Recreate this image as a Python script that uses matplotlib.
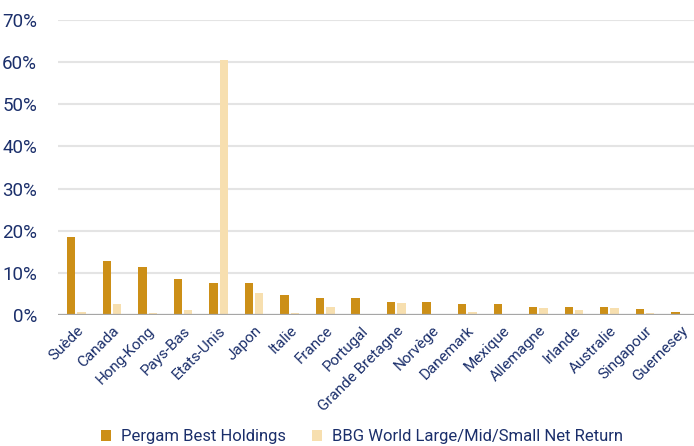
import numpy as np
import matplotlib
matplotlib.use("Agg")
import matplotlib.pyplot as plt
from matplotlib.ticker import FuncFormatter

pays = ["Suède", "Canada", "Hong-Kong", "Pays-Bas", "Etats-Unis", "Japon",
        "Italie", "France", "Portugal", "Grande Bretagne", "Norvège",
        "Danemark", "Mexique", "Allemagne", "Irlande", "Australie",
        "Singapour", "Guernesey"]
pergam = [18.6, 12.9, 11.3, 8.5, 7.5, 7.5, 4.8, 4.0, 4.0, 3.0, 3.0,
          2.7, 2.7, 2.0, 2.0, 1.8, 1.4, 0.8]
bbg = [0.8, 2.6, 0.5, 1.3, 60.5, 5.2, 0.5, 2.0, 0.1, 2.9, 0.1,
       0.8, 0.1, 1.7, 1.3, 1.7, 0.5, 0.0]
yticks = [0, 10, 20, 30, 40, 50, 60, 70]

navy = "#1B2F6B"
gold = "#CC8F17"
sable = "#F7DFAF"

plt.rcParams["font.family"] = ["Roboto", "DejaVu Sans"]

fig = plt.figure(figsize=(6.94, 4.46), dpi=100)
ax = fig.add_axes([58 / 694, 131 / 446, 636 / 694, 295 / 446])

x = np.arange(len(pays))
w = 0.235
ax.bar(x - 0.145, pergam, width=w, color=gold, label="Pergam Best Holdings", zorder=3)
ax.bar(x + 0.145, bbg, width=w, color=sable,
       label="BBG World Large/Mid/Small Net Return", zorder=3)

ax.set_xlim(-0.52, 17.38)
ax.set_ylim(0, 70)
ax.set_yticks(yticks)
ax.yaxis.set_major_formatter(FuncFormatter(lambda v, p: f"{v:.0f}%"))
ax.grid(axis="y", color="#E4E4E4", linewidth=1.5, zorder=0)
ax.axhline(0, color="#A6A6A6", linewidth=1.6, zorder=4)

ax.set_xticks(x)
ax.set_xticklabels(pays, rotation=45, ha="right", rotation_mode="anchor",
                   fontsize=11, color=navy)
ax.tick_params(axis="x", length=0, pad=6)
ax.tick_params(axis="y", length=0, pad=15, labelsize=13.5, labelcolor=navy)
for s in ax.spines.values():
    s.set_visible(False)

fig.legend(loc="center", bbox_to_anchor=(362 / 694, 9 / 446), ncol=2,
           frameon=False, fontsize=12, labelcolor=navy,
           handlelength=0.6, handleheight=0.6, handletextpad=0.6,
           columnspacing=1.6, borderaxespad=0, borderpad=0)

fig.savefig("out.png", dpi=100)
